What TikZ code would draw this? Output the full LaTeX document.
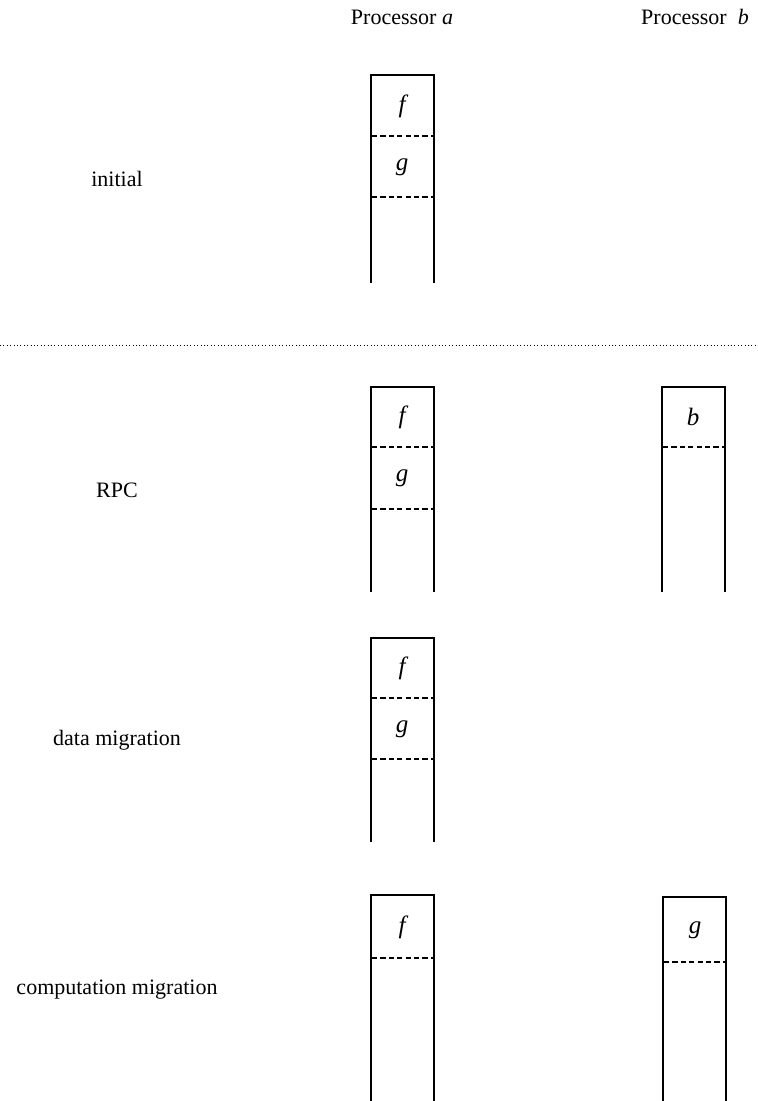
\documentclass[tikz,border=0pt]{standalone}
\usepackage{fontspec}
\setmainfont{Liberation Serif}
\usepackage{tikz}
\usetikzlibrary{positioning,calc}

\begin{document}
\begin{tikzpicture}[x=0.5pt,y=-0.5pt,
    lbl/.style={font=\fontsize{11}{13}\selectfont},
    cell/.style={font=\fontsize{12.5}{14}\selectfont\itshape},
    stackline/.style={line width=0.9pt},
    slot/.style={line width=0.8pt,dash pattern=on 2.6pt off 1.6pt}]
  \useasboundingbox (0,0) rectangle (758,1101);
  % column heads
  \node[lbl] (heada) at (402,17) {Processor \textit{a}};
  \node[lbl] (headb) at (695,17) {Processor\enspace\textit{b}};
  % row names, at the middle of each stack
  \foreach \n/\y/\t in {ini/179/initial, rpc/490/RPC, dat/740/data migration, cmp/990/computation migration}{
    \node[lbl] (row\n) at (117,\y) {\t};
  }
  \draw[line width=0.5pt,dash pattern=on 0.5pt off 1.2pt] (0,345) -- (758,345);
  % stacks, open at the bottom
  \foreach \x/\t/\b in {371/75/283, 371/387/592, 662/387/592, 371/638/842, 371/895/1101, 663/897/1101}{
    \draw[stackline] (\x,\b) -- (\x,\t) -- ({\x+63},\t) -- ({\x+63},\b);
  }
  \foreach \x/\y in {371/136, 371/197, 371/447, 371/509, 662/447, 371/698, 371/759, 371/958, 663/962}{
    \draw[slot] (\x+1,\y) -- ({\x+62},\y);
  }
  % frames
  \foreach \n/\x/\y/\v in {inif/402/106/f, inig/402/167/g, rpcf/402/417/f, rpcg/402/478/g, rpcb/693/417/b,
                           datf/402/668/f, datg/402/729/g, cmpf/402/927/f, cmpg/695/930/g}{
    \node[cell] (\n) at (\x,\y) {\v};
  }
\end{tikzpicture}
\end{document}
